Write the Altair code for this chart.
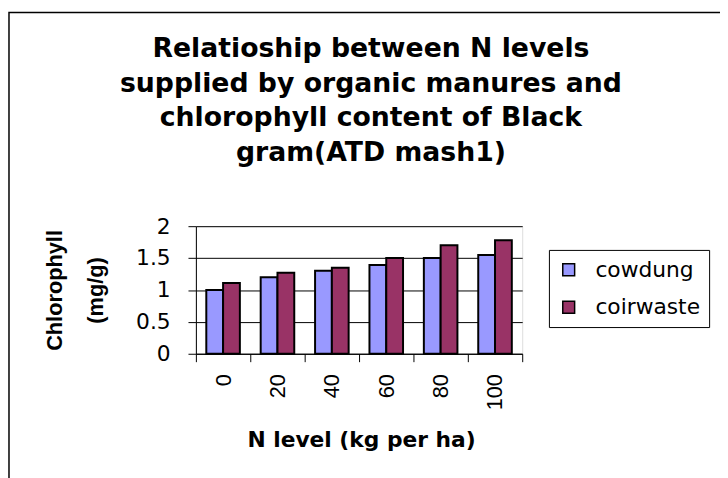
import altair as alt
import pandas as pd

levels = ["0", "20", "40", "60", "80", "100"]
series = ["cowdung", "coirwaste"]
cowdung = [1.0, 1.2, 1.3, 1.39, 1.5, 1.55]
coirwaste = [1.11, 1.27, 1.35, 1.5, 1.7, 1.78]
colors = ["#9999FF", "#993366"]
y_ticks = [0, 0.5, 1, 1.5, 2]

title_lines = [
    "Relatioship between N levels",
    "supplied by organic manures and",
    "chlorophyll content of Black",
    "gram(ATD mash1)",
]

rows = []
for lv, a, b in zip(levels, cowdung, coirwaste):
    rows.append({"level": lv, "series": "cowdung", "value": a})
    rows.append({"level": lv, "series": "coirwaste", "value": b})
df = pd.DataFrame(rows)

W, H = 330, 129

bars = alt.Chart(df).mark_bar(stroke="black", strokeWidth=2).encode(
    x=alt.X(
        "level:N",
        sort=levels,
        scale=alt.Scale(paddingInner=0, paddingOuter=0),
        axis=alt.Axis(
            tickBand="extent",
            labelAngle=-90,
            labelAlign="right",
            labelBaseline="middle",
            labelFont="Liberation Sans",
            labelFontSize=22,
            labelColor="black",
            labelPadding=12,
            tickSize=8,
            tickColor="black",
            domainColor="black",
            grid=False,
            title="N level (kg per ha)",
            titleFont="DejaVu Sans",
            titleFontSize=22,
            titleFontWeight="bold",
            titleColor="black",
            titleX=167,
            titleY=94,
            titleAlign="center",
            titleBaseline="alphabetic",
        ),
    ),
    xOffset=alt.XOffset(
        "series:N", sort=series, scale=alt.Scale(paddingOuter=0.62, paddingInner=0)
    ),
    y=alt.Y(
        "value:Q",
        scale=alt.Scale(domain=[0, 2], nice=False),
        axis=alt.Axis(
            values=y_ticks,
            format="~g",
            labelFont="DejaVu Sans",
            labelFontSize=22,
            labelColor="black",
            labelPadding=18,
            tickSize=8,
            tickColor="black",
            domainColor="black",
            grid=True,
            gridColor="black",
            gridWidth=1,
            title=["Chlorophyll", "(mg/g)"],
            titleFont="Liberation Sans",
            titleFontSize=22,
            titleFontWeight="bold",
            titleColor="black",
            titleAngle=-90,
            titleX=-153,
            titleY=H / 2,
            titleAlign="center",
            titleBaseline="top",
            titleLineHeight=42,
        ),
    ),
    color=alt.Color(
        "series:N",
        sort=series,
        scale=alt.Scale(domain=series, range=colors),
        legend=alt.Legend(
            title=None,
            orient="none",
            legendX=357,
            legendY=24,
            strokeColor="black",
            padding=9,
            symbolType="square",
            symbolSize=144,
            symbolStrokeColor="black",
            symbolStrokeWidth=1.5,
            labelFont="DejaVu Sans",
            labelFontSize=22,
            labelColor="black",
            labelOffset=16,
            rowPadding=16,
        ),
    ),
)

frame = alt.Chart(alt.Data(values=[{}])).mark_rect(
    fillOpacity=0, stroke="black", strokeWidth=1.5
).encode(
    x=alt.value(-189), x2=alt.value(800), y=alt.value(-216), y2=alt.value(400)
)

title = alt.Chart(alt.Data(values=[{}])).mark_text(
    text=title_lines,
    font="DejaVu Sans",
    fontSize=27,
    fontWeight="bold",
    color="black",
    lineHeight=35,
    align="center",
    baseline="top",
).encode(x=alt.value(177), y=alt.value(-192))

chart = alt.layer(frame, bars, title).properties(
    width=W,
    height=H,
    autosize=alt.AutoSizeParams(type="none"),
    padding={"left": 190, "top": 218, "right": 200, "bottom": 123},
).configure_view(fill="#C0C0C0", stroke="#808080").configure(background="white")

chart.save("out.html", embed_options={"renderer": "svg", "actions": False})
